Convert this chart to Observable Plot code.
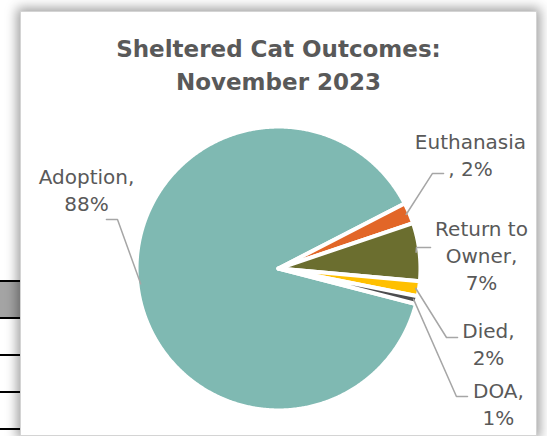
<!DOCTYPE html>
<html>
<head>
<meta charset="utf-8">
<script src="https://cdn.jsdelivr.net/npm/d3@7"></script>
<script src="https://cdn.jsdelivr.net/npm/@observablehq/plot@0.6"></script>
<style>
  html, body { margin: 0; padding: 0; background: #ffffff; }
  body { position: relative; width: 547px; height: 436px; overflow: hidden; font-family: "DejaVu Sans", sans-serif; }
  .cellline { position: absolute; left: 0; width: 20px; height: 2px; background: #000; }
  .cellfill { position: absolute; left: 0; width: 20px; top: 282px; height: 36px; background: #a4a4a4; }
  #box { position: absolute; left: 20px; top: 11px; width: 515px; height: 423px; background: #fff;
         border: 1px solid #d4d4d4; box-shadow: 0 0 11px 3px rgba(0,0,0,0.38); }
  #title { position: absolute; left: 20px; width: 517px; top: 33px; text-align: center;
           font-weight: bold; font-size: 23px; line-height: 33px; color: #595959; }
  #chart { position: absolute; left: 0; top: 100px; }
</style>
</head>
<body>
<div class="cellfill"></div>
<div class="cellline" style="top:280px"></div>
<div class="cellline" style="top:317px"></div>
<div class="cellline" style="top:354px"></div>
<div class="cellline" style="top:391px"></div>
<div class="cellline" style="top:428px"></div>
<div id="box"></div>
<div id="title">Sheltered Cat Outcomes:<br>November 2023</div>
<div id="chart"></div>
<script>
// ---- data ----
const names = ["Adoption", "Euthanasia", "Return to Owner", "Died", "DOA"];
const values = [88.4, 2.4, 6.6, 1.7, 0.9];
const colors = ["#7fb9b2", "#e26628", "#6b6e2f", "#ffc000", "#4d4d4f"];
const wrappedNames = ["Adoption", "Euthanasia", "Return to\nOwner", "Died", "DOA"];
const separators = [",\n", "\n, ", ",\n", ",\n", ",\n"];

// ---- layout (units of pie radius, relative to pie centre) ----
const firstSliceAngle = 104.5;
const labelPos = [[-1.371, 0.571], [1.371, 0.818], [1.45, 0.1], [1.5, -0.529], [1.571, -0.957]];
const leaderElbow = [[-1.15, 0.35], [1.1, 0.679], [0.986, 0.15], [1.2, -0.493], [1.271, -0.914]];
const leaderEnd = [[-1.229, 0.35], [1.179, 0.679], [1.086, 0.15], [1.279, -0.493], [1.35, -0.914]];

const total = d3.sum(values);
const a0 = firstSliceAngle * Math.PI / 180;
const arcs = d3.pie().sort(null).startAngle(a0).endAngle(a0 + 2 * Math.PI)(values);

const R = 1.014;
const slicePts = [];
arcs.forEach((a, i) => {
  const n = Math.max(2, Math.ceil((a.endAngle - a.startAngle) / (0.4 * Math.PI / 180)));
  slicePts.push({name: names[i], x: 0, y: 0});
  for (let k = 0; k <= n; k++) {
    const t = a.startAngle + (a.endAngle - a.startAngle) * k / n;
    slicePts.push({name: names[i], x: R * Math.sin(t), y: R * Math.cos(t)});
  }
  slicePts.push({name: names[i], x: 0, y: 0});
});

const leaderPts = [];
arcs.forEach((a, i) => {
  const mid = (a.startAngle + a.endAngle) / 2;
  leaderPts.push({name: names[i], x: 0.99 * Math.sin(mid), y: 0.99 * Math.cos(mid)});
  leaderPts.push({name: names[i], x: leaderElbow[i][0], y: leaderElbow[i][1]});
  leaderPts.push({name: names[i], x: leaderEnd[i][0], y: leaderEnd[i][1]});
});

const labels = names.map((nm, i) => ({
  name: nm,
  x: labelPos[i][0],
  y: labelPos[i][1],
  text: wrappedNames[i] + separators[i] + Math.round(values[i] / total * 100) + "%"
}));

const unit = 140, cx = 278, H = 336, cyTop = 168;
const plot = Plot.plot({
  width: 547,
  height: H,
  margin: 0,
  x: {domain: [-cx / unit, (547 - cx) / unit], axis: null},
  y: {domain: [-(H - cyTop) / unit, cyTop / unit], axis: null},
  color: {domain: names, range: colors},
  style: {background: "transparent", fontFamily: "DejaVu Sans, sans-serif"},
  marks: [
    Plot.line(slicePts, {x: "x", y: "y", z: "name", fill: "name", stroke: "#ffffff", strokeWidth: 4, strokeLinejoin: "round", curve: "linear"}),
    Plot.line(leaderPts, {x: "x", y: "y", z: "name", stroke: "#a6a6a6", strokeWidth: 1.5, curve: "linear"}),
    Plot.text(labels, {x: "x", y: "y", text: "text", textAnchor: "middle", lineAnchor: "middle", lineHeight: 1.35, fontSize: 20, fill: "#595959"})
  ]
});
document.getElementById("chart").appendChild(plot);
</script>
</body>
</html>
